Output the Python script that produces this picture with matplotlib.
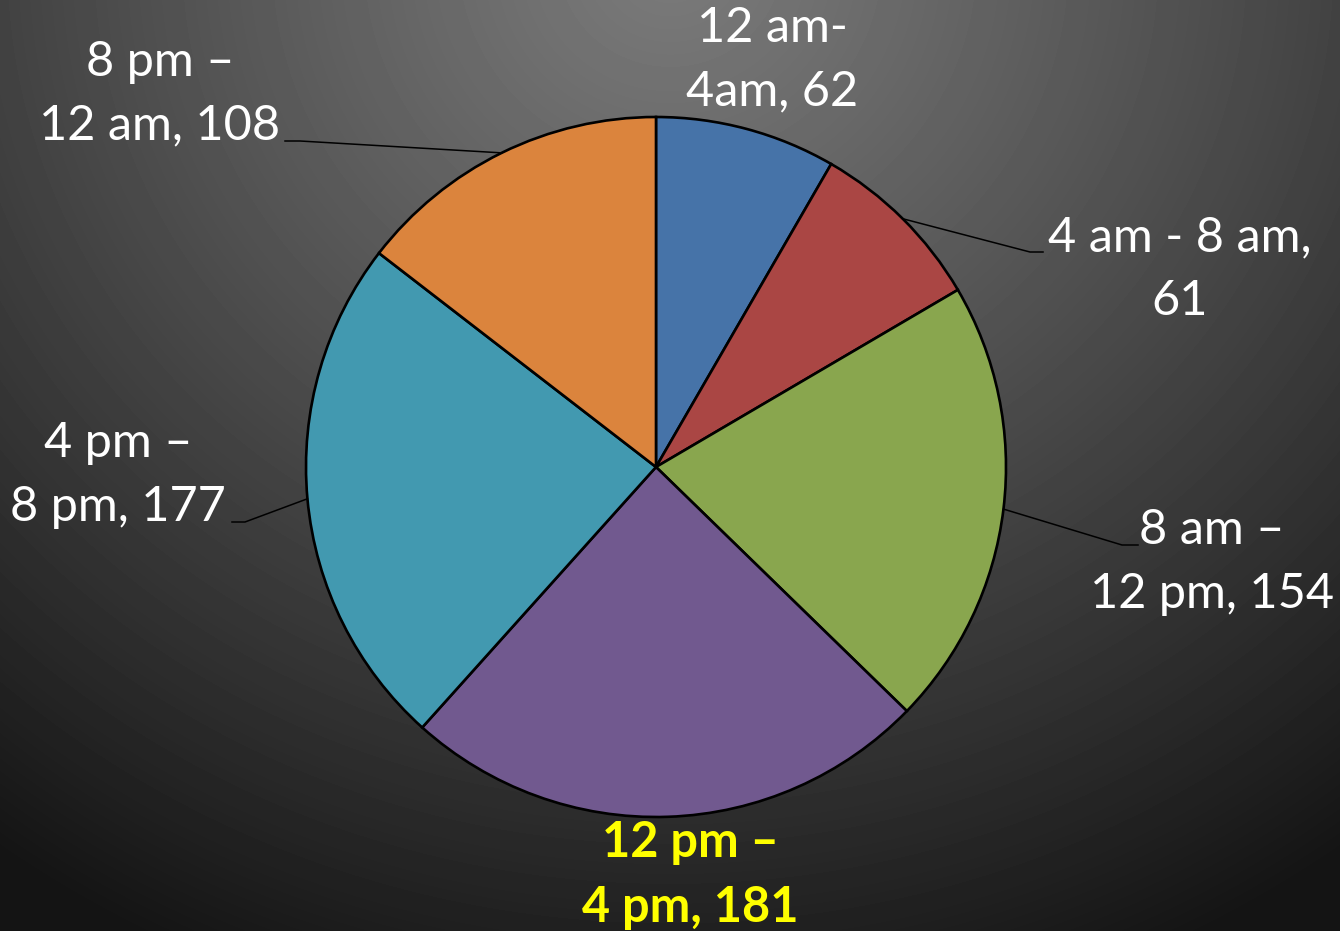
import matplotlib.pyplot as plt
import numpy as np

# slice data, clockwise from 12 o'clock
labels = ["12 am-\n4am", "4 am - 8 am,\n", "8 am \u2013\n12 pm", "12 pm \u2013\n4 pm",
          "4 pm \u2013\n8 pm", "8 pm \u2013\n12 am"]
values = [62, 61, 154, 181, 177, 108]
colors = ["#4673A8", "#AA4644", "#89A64E", "#71598F", "#4299B0", "#DB843D"]

W, H = 1340, 931
cx, cy, R = 656, 467, 350
font_size = 35
plt.rcParams['font.family'] = ['Lato', 'DejaVu Sans']

fig = plt.figure(figsize=(W / 100, H / 100), dpi=100)

# radial gradient background
bg = fig.add_axes([0, 0, 1, 1])
yy, xx = np.mgrid[0:H, 0:W]
d = np.sqrt((xx - 670) ** 2 + ((yy + 40) * 1.05) ** 2)
g = np.clip(d / 1150, 0, 1)
shade = 0.48 - 0.40 * g ** 1.1
bg.imshow(shade, cmap='gray', vmin=0, vmax=1, aspect='auto', extent=[0, W, H, 0])
bg.set_xlim(0, W)
bg.set_ylim(H, 0)
bg.axis('off')

ax = fig.add_axes([(cx - R) / W, (H - cy - R) / H, 2 * R / W, 2 * R / H])
wedges, _ = ax.pie(values, colors=colors, startangle=90, counterclock=False,
                   wedgeprops=dict(edgecolor='black', linewidth=1.9))
ax.set_xlim(-1, 1)
ax.set_ylim(-1, 1)
ax.set_aspect('auto')
ax.axis('off')


def to_data(px, py):
    return (px - cx) / R, (cy - py) / R


# label text positions (pixels), and leader elbow/end points (pixels) or None
label_pos = [(772, 60), (1180, 269), (1212, 562), (690, 875), (118, 475), (160, 94)]
leaders = [None,
           [(1030, 252), (1043, 252)],
           [(1122, 545), (1138, 545)],
           None,
           [(245, 522), (232, 522)],
           [(300, 141), (285, 141)]]

total = sum(values)
start = 0
for i, v in enumerate(values):
    mid = (start + v / 2) / total * 2 * np.pi
    start += v
    if labels[i].endswith("\n"):
        txt = labels[i] + str(v)
    else:
        txt = labels[i] + ", " + str(v)
    tx, ty = to_data(*label_pos[i])
    bold = i == 3
    ax.text(tx, ty, txt, ha='center', va='center', fontsize=font_size,
            color='#FFFF00' if bold else 'white',
            fontweight='bold' if bold else 'normal',
            linespacing=1.55, clip_on=False)
    if leaders[i] is not None:
        ex, ey = np.sin(mid), np.cos(mid)
        pts = [(ex, ey)] + [to_data(*p) for p in leaders[i]]
        ax.plot([p[0] for p in pts], [p[1] for p in pts], color='black',
                linewidth=1.1, clip_on=False)

fig.savefig("out.png", dpi=100)
